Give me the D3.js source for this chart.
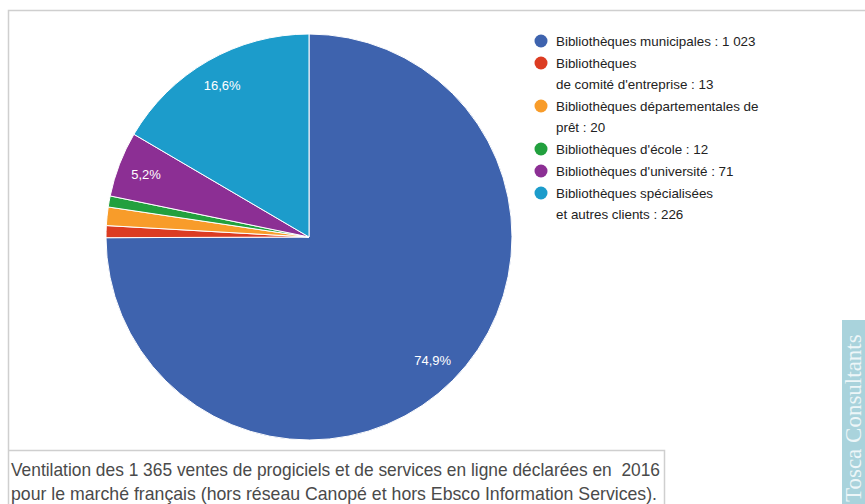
<!DOCTYPE html>
<html>
<head>
<meta charset="utf-8">
<script src="https://cdn.jsdelivr.net/npm/d3@7"></script>
<style>
  body { margin: 0; background: #fff; }
  svg { display: block; font-family: "Liberation Sans", Arial, sans-serif; }
</style>
</head>
<body>
<div id="wrapper"></div>
<script>
// 1. Data
const categories = [
  "Bibliothèques municipales",
  "Bibliothèques de comité d'entreprise",
  "Bibliothèques départementales de prêt",
  "Bibliothèques d'école",
  "Bibliothèques d'université",
  "Bibliothèques spécialisées et autres clients"
]
const values = [1023, 13, 20, 12, 71, 226]
const legendLines = [
  ["Bibliothèques municipales : 1 023"],
  ["Bibliothèques", "de comité d'entreprise : 13"],
  ["Bibliothèques départementales de", "prêt : 20"],
  ["Bibliothèques d'école : 12"],
  ["Bibliothèques d'université : 71"],
  ["Bibliothèques spécialisées", "et autres clients : 226"]
]
const colors = ["#3e63ae", "#dc3c22", "#f89c2a", "#22a03e", "#8c2f94", "#1c9ccb"]
const captionLines = [
  "Ventilation des 1 365 ventes de progiciels et de services en ligne déclarées en  2016",
  "pour le marché français (hors réseau Canopé et hors Ebsco Information Services)."
]
const watermark = "Tosca Consultants"

const dataset = categories.map((c, i) => ({ name: c, value: values[i], color: colors[i], legend: legendLines[i] }))

// 2. Dimensions
const dimensions = { width: 865, height: 504, cx: 309, cy: 237, radius: 203 }

// 3. Canvas
const wrapper = d3.select("#wrapper")
  .append("svg")
  .attr("width", dimensions.width)
  .attr("height", dimensions.height)

// outer frame
wrapper.append("path")
  .attr("d", `M8.5,${dimensions.height} V10.5 H${dimensions.width}`)
  .attr("fill", "none")
  .attr("stroke", "#cfcfcf")
  .attr("stroke-width", 1.5)

// 4. Pie
const total = d3.sum(values)
const pie = d3.pie().value(d => d.value).sort(null)
const arc = d3.arc().innerRadius(0).outerRadius(dimensions.radius)
const labelArc = d3.arc().innerRadius(dimensions.radius * 0.86).outerRadius(dimensions.radius * 0.86)
const formatPct = v => d3.format(".1f")(v * 100).replace(".", ",") + "%"

const bounds = wrapper.append("g")
  .attr("transform", `translate(${dimensions.cx},${dimensions.cy})`)

const arcs = pie(dataset)

bounds.selectAll("path.slice")
  .data(arcs)
  .join("path")
  .attr("class", "slice")
  .attr("d", arc)
  .attr("fill", d => d.data.color)
  .attr("stroke", "#fff")
  .attr("stroke-width", 1)

bounds.selectAll("text.pct")
  .data(arcs.filter(d => d.data.value / total > 0.05))
  .join("text")
  .attr("class", "pct")
  .attr("transform", d => `translate(${labelArc.centroid(d)})`)
  .attr("text-anchor", "middle")
  .attr("dy", "0.35em")
  .attr("fill", "#fff")
  .style("font-size", "13px")
  .text(d => formatPct(d.data.value / total))

// 5. Legend
const legend = wrapper.append("g")
  .attr("transform", "translate(541,41)")

let yPos = 0
dataset.forEach(d => {
  const item = legend.append("g").attr("transform", `translate(0,${yPos})`)
  item.append("circle")
    .attr("r", 6.5)
    .attr("fill", d.color)
  item.selectAll("text")
    .data(d.legend)
    .join("text")
    .attr("x", 15)
    .attr("y", (l, i) => i * 21)
    .attr("dy", "0.35em")
    .attr("fill", "#222")
    .style("font-size", "13.4px")
    .text(l => l)
  yPos += d.legend.length * 21 + 1
})

// 6. Caption box
wrapper.append("path")
  .attr("d", `M8.5,450.5 H664.5 V${dimensions.height}`)
  .attr("fill", "none")
  .attr("stroke", "#cfcfcf")
  .attr("stroke-width", 1.5)

wrapper.selectAll("text.caption")
  .data(captionLines)
  .join("text")
  .attr("class", "caption")
  .attr("x", 11)
  .attr("y", (d, i) => 476 + i * 24)
  .attr("fill", "#4a4a4a")
  .style("font-size", "19px")
  .style("white-space", "pre")
  .attr("textLength", (d, i) => i === 0 ? 649 : 646)
  .attr("lengthAdjust", "spacingAndGlyphs")
  .text(d => d)

// 7. Watermark
wrapper.append("rect")
  .attr("x", 842)
  .attr("y", 320)
  .attr("width", 23)
  .attr("height", dimensions.height - 320)
  .attr("fill", "#a9d3dc")

wrapper.append("text")
  .attr("transform", "translate(861,502) rotate(-90)")
  .attr("fill", "#fff")
  .attr("opacity", 0.8)
  .style("font-family", "'Liberation Serif', 'DejaVu Serif', serif")
  .style("font-size", "23px")
  .text(watermark)
</script>
</body>
</html>
